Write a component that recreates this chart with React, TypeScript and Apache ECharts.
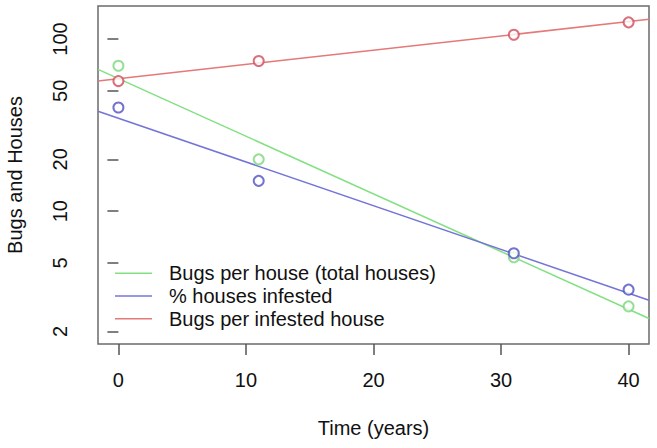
import React, { useEffect, useRef } from "react";
import * as echarts from "echarts";

const years = [0, 11, 31, 40];
const bugsPerHouse = [70, 20, 5.4, 2.8];
const pctInfested = [40, 15, 5.7, 3.5];
const bugsPerInfested = [57, 74.5, 106, 125];

const lineX = [-1.6, 41.6];
const bugsPerHouseFit = [66.7, 2.38];
const pctInfestedFit = [38.1, 3.04];
const bugsPerInfestedFit = [57, 130.2];

const xTicks = [0, 10, 20, 30, 40];
const yTicks = [2, 5, 10, 20, 50, 100];

const names = ["Bugs per house (total houses)", "% houses infested", "Bugs per infested house"];
const lineColors = ["#82e082", "#7474d8", "#e57878"];
const pointColors = ["#7cd87c", "#5050c4", "#d24c5c"];

const FONT = "'Liberation Sans', Arial, Helvetica, sans-serif";

export default function App() {
  const ref = useRef<HTMLDivElement>(null);
  useEffect(() => {
    if (!ref.current) return;
    const chart = echarts.init(ref.current, undefined, { renderer: "svg" });
    const fits = [bugsPerHouseFit, pctInfestedFit, bugsPerInfestedFit];
    const pts = [bugsPerHouse, pctInfested, bugsPerInfested];
    const lineSeries = fits.map((f, i) => ({
      name: names[i],
      type: "line",
      symbol: "none",
      data: lineX.map((x, j) => [x, f[j]]),
      lineStyle: { color: lineColors[i], width: 1.5 },
      itemStyle: { color: lineColors[i] },
      z: 3,
    }));
    const scatterSeries = pts.map((p, i) => ({
      name: "pts" + i,
      type: "scatter",
      symbol: "emptyCircle",
      symbolSize: 10,
      data: years.map((x, j) => [x, p[j]]),
      itemStyle: { color: pointColors[i], borderColor: pointColors[i], borderWidth: 1.5 },
      z: 4,
    }));
    chart.setOption({
      animation: false,
      textStyle: { fontFamily: FONT },
      grid: {
        left: 98,
        top: 6,
        right: 8,
        bottom: 104,
        containLabel: false,
        outerBoundsMode: "none",
        show: true,
        borderColor: "#6b6b6b",
        borderWidth: 1.5,
      },
      legend: {
        data: names,
        orient: "vertical",
        left: 110,
        top: 257,
        icon: "rect",
        itemWidth: 37,
        itemHeight: 1.5,
        itemGap: 0,
        textStyle: {
          fontFamily: FONT,
          fontSize: 20,
          color: "#111",
          lineHeight: 22.7,
          padding: [0, 0, 0, 12],
        },
      },
      xAxis: {
        type: "value",
        min: -1.6,
        max: 41.6,
        name: "Time (years)",
        nameLocation: "middle",
        nameGap: 74,
        nameTextStyle: { fontFamily: FONT, fontSize: 20, color: "#111" },
        splitLine: { show: false },
        axisLine: { show: false },
        axisTick: { show: true, inside: false, length: 11, lineStyle: { color: "#555", width: 1.5 }, customValues: xTicks },
        axisLabel: {
          customValues: xTicks,
          margin: 26,
          fontFamily: FONT,
          fontSize: 20,
          color: "#111",
        },
      },
      yAxis: {
        type: "log",
        logBase: 10,
        min: 1.692,
        max: 155.6,
        name: "Bugs and Houses",
        nameLocation: "middle",
        nameGap: 73,
        nameTextStyle: { fontFamily: FONT, fontSize: 20, color: "#111" },
        splitLine: { show: false },
        axisLine: { show: false },
        axisTick: { show: true, inside: false, length: 11, lineStyle: { color: "#555", width: 1.5 }, customValues: yTicks },
        axisLabel: {
          customValues: yTicks,
          rotate: 90,
          margin: 28,
          fontFamily: FONT,
          fontSize: 20,
          color: "#111",
          formatter: (v: number) => String(Math.round(v)),
        },
      },
      series: [...scatterSeries, ...lineSeries],
    });
    return () => chart.dispose();
  }, []);
  return <div ref={ref} style={{ width: 657, height: 448, position: "absolute", left: 0, top: 0, background: "#fff" }} />;
}
